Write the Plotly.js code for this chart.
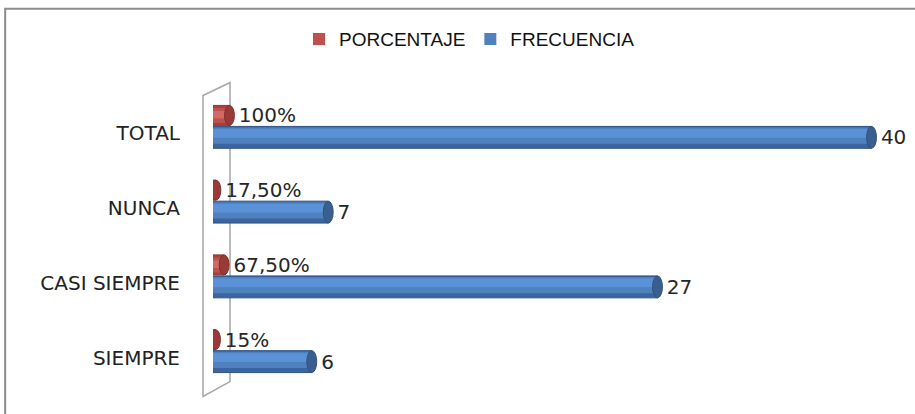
<!DOCTYPE html>
<html>
<head>
<meta charset="utf-8">
<script src="https://cdn.plot.ly/plotly-3.0.1.min.js"></script>
<style>html,body{margin:0;padding:0;background:#fff;}#chart{width:915px;height:414px;}</style>
</head>
<body>
<div id="chart"></div>
<script>
// Data
const categories = ['SIEMPRE', 'CASI SIEMPRE', 'NUNCA', 'TOTAL'];
const frecuencia = [6, 27, 7, 40];
const porcentaje = [0.15, 0.675, 0.175, 1.0];
const porcentajeLabels = ['15%', '67,50%', '17,50%', '100%'];
const frecuenciaLabels = ['6', '27', '7', '40'];

const labelFont = {family: 'DejaVu Sans', size: 20, color: '#262626'};

// bar geometry (in category units) for the two series
const RED = {off: 0.107, w: 0.267};
const BLUE = {off: -0.2, w: 0.293};

function layer(name, xs, color, offset, width, opts) {
  return Object.assign({
    type: 'bar', orientation: 'h', name: name,
    x: xs, y: categories,
    offset: offset, width: width,
    marker: {color: color, line: {width: 0}},
    hoverinfo: 'skip', showlegend: false, cliponaxis: false
  }, opts || {});
}

const traces = [
  // PORCENTAJE (red cylinder, stacked shading layers)
  layer('PORCENTAJE', porcentaje, '#A8403D', RED.off, RED.w, {
    marker: {color: '#A8403D', line: {color: '#8C3836', width: 1}},
    text: porcentajeLabels, texttemplate: ' %{text}', textposition: 'outside', textfont: labelFont,
    outsidetextfont: labelFont, constraintext: 'none', legendgroup: 'p'
  }),
  layer('PORCENTAJE', porcentaje, '#C0504D', RED.off + 0.033, 0.2, {legendgroup: 'p', showlegend: true}),
  layer('PORCENTAJE', porcentaje, '#D06A67', RED.off + 0.093, 0.1, {legendgroup: 'p'}),
  // FRECUENCIA (blue cylinder)
  layer('FRECUENCIA', frecuencia, '#3C64A0', BLUE.off, BLUE.w, {
    marker: {color: '#3C64A0', line: {color: '#2F5283', width: 1}},
    text: frecuenciaLabels, texttemplate: ' %{text}', textposition: 'outside', textfont: labelFont,
    outsidetextfont: labelFont, constraintext: 'none', legendgroup: 'f'
  }),
  layer('FRECUENCIA', frecuencia, '#4F81BD', BLUE.off + 0.06, 0.22, {legendgroup: 'f', showlegend: true}),
  layer('FRECUENCIA', frecuencia, '#5A91D7', BLUE.off + 0.14, 0.12, {legendgroup: 'f'})
];

// elliptical end caps of the cylinders, computed from the data arrays
const caps = [];
categories.forEach(function (c, i) {
  caps.push({type: 'circle', xref: 'x', yref: 'y', layer: 'above',
    x0: frecuencia[i] - 0.3, x1: frecuencia[i] + 0.3,
    y0: i + BLUE.off, y1: i + BLUE.off + BLUE.w,
    fillcolor: '#3A5F8E', line: {color: '#2F5283', width: 1}});
  caps.push({type: 'circle', xref: 'x', yref: 'y', layer: 'above',
    x0: porcentaje[i] - 0.3, x1: porcentaje[i] + 0.3,
    y0: i + RED.off, y1: i + RED.off + RED.w,
    fillcolor: '#9A3A37', line: {color: '#7F2F2D', width: 1}});
});

const layout = {
  width: 915, height: 414,
  margin: {l: 213, r: 26.5, t: 95.5, b: 18.5},
  paper_bgcolor: '#ffffff', plot_bgcolor: 'rgba(0,0,0,0)',
  barmode: 'overlay',
  showlegend: true,
  legend: {
    orientation: 'h', x: 0.38, xanchor: 'center', y: 1.19, yanchor: 'middle',
    font: {family: 'Liberation Sans', size: 19, color: '#111111'},
    bgcolor: 'rgba(0,0,0,0)', itemclick: false, itemdoubleclick: false
  },
  xaxis: {
    range: [0, 41], showgrid: false, zeroline: false, showline: false,
    showticklabels: false, ticks: '', fixedrange: true
  },
  yaxis: {
    type: 'category', range: [-0.5, 3.5], showgrid: false, zeroline: false,
    showline: false, ticks: 'outside', ticklen: 28, tickcolor: 'rgba(0,0,0,0)',
    tickfont: {family: 'DejaVu Sans', size: 20, color: '#222222'}, fixedrange: true
  },
  shapes: [
    // outer chart-area frame
    {type: 'rect', xref: 'paper', yref: 'paper', x0: -0.3079, x1: 1.0466, y0: -0.0817, y1: 1.2917,
     line: {color: '#8C8C8C', width: 2}, fillcolor: 'rgba(0,0,0,0)', layer: 'below'},
    // 3-D wall behind the bars
    {type: 'path', xref: 'paper', yref: 'paper',
     path: 'M -0.0148 1.0017 L 0.0252 1.045 L 0.0252 0.045 L -0.0148 -0.005 Z',
     line: {color: '#A6A6A6', width: 1.5}, fillcolor: 'rgba(0,0,0,0)', layer: 'below'}
  ].concat(caps),
  hovermode: false
};

Plotly.newPlot('chart', traces, layout, {displayModeBar: false, staticPlot: true});
</script>
</body>
</html>
